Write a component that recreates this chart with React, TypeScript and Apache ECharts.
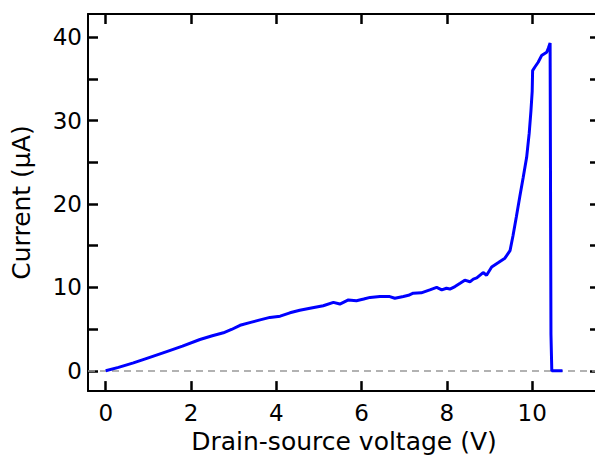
import React, { useEffect, useRef } from "react";
import * as echarts from "echarts";

const voltage = [
  0, 0.3, 0.65, 1.0, 1.43, 1.8, 2.21, 2.5, 2.76, 2.95, 3.15, 3.4, 3.62, 3.85, 4.09,
  4.32, 4.55, 4.79, 5.1, 5.34, 5.49, 5.69, 5.88, 6.05, 6.2, 6.43, 6.66, 6.78, 6.98,
  7.1, 7.21, 7.4, 7.6, 7.76, 7.88, 7.99, 8.07, 8.19, 8.31, 8.42, 8.54, 8.62, 8.7,
  8.85, 8.93, 9.05, 9.2, 9.36, 9.48, 9.55, 9.63, 9.71, 9.79, 9.87, 9.93, 9.97, 10.0,
  10.01, 10.06, 10.14, 10.22, 10.34, 10.38, 10.42, 10.44, 10.46, 10.71,
];
const current = [
  0, 0.4, 0.94, 1.55, 2.3, 2.95, 3.75, 4.2, 4.55, 4.95, 5.45, 5.8, 6.1, 6.4, 6.55,
  6.95, 7.25, 7.5, 7.8, 8.2, 8.0, 8.5, 8.4, 8.6, 8.8, 8.9, 8.9, 8.7, 8.9,
  9.05, 9.3, 9.35, 9.7, 10.0, 9.7, 9.9, 9.8, 10.1, 10.5, 10.87, 10.67, 11.0, 11.14,
  11.78, 11.46, 12.44, 12.95, 13.5, 14.4, 16.2, 18.5, 20.9, 23.2, 25.6, 28.5, 31.1, 33.5,
  36.0, 36.4, 37.0, 37.8, 38.2, 38.7, 39.3, 4.4, 0, 0,
];
const xTicks = [0, 2, 4, 6, 8, 10];
const yMinorTicks = [0, 5, 10, 15, 20, 25, 30, 35, 40];
const yLabels = [0, 10, 20, 30, 40];

const FONT = "DejaVu Sans";

export default function App() {
  const ref = useRef<HTMLDivElement>(null);
  useEffect(() => {
    if (!ref.current) return;
    const chart = echarts.init(ref.current, null, { renderer: "svg" });
    const xMin = -0.415;
    const xMax = 11.59;
    const yMin = -2.44;
    const yMax = 42.79;
    const lineCol = "#000";
    const commonX = {
      type: "value" as const,
      min: xMin,
      max: xMax,
      splitLine: { show: false },
      axisLine: { show: true, onZero: false, lineStyle: { color: lineCol, width: 2 } },
      axisTick: { show: true, inside: true, length: 10, lineStyle: { color: lineCol, width: 2.5 }, customValues: xTicks },
    };
    const commonY = {
      type: "value" as const,
      min: yMin,
      max: yMax,
      splitLine: { show: false },
      axisLine: { show: true, onZero: false, lineStyle: { color: lineCol, width: 2 } },
      axisTick: { show: true, inside: true, length: 10, lineStyle: { color: lineCol, width: 2.5 }, customValues: yMinorTicks },
    };
    chart.setOption({
      animation: false,
      backgroundColor: "#fff",
      grid: { left: 88, width: 512, top: 14, height: 384, containLabel: false },
      xAxis: [
        {
          ...commonX,
          position: "bottom",
          name: "Drain-source voltage (V)",
          nameLocation: "middle",
          nameGap: 37,
          nameTextStyle: { fontFamily: FONT, fontSize: 25, color: "#000" },
          axisLabel: { show: true, customValues: xTicks, margin: 10, fontFamily: FONT, fontSize: 23, color: "#000" },
        },
        { ...commonX, position: "top", axisLabel: { show: false } },
      ],
      yAxis: [
        {
          ...commonY,
          position: "left",
          name: "Current (μA)",
          nameLocation: "middle",
          nameGap: 54,
          nameTextStyle: { fontFamily: FONT, fontSize: 25, color: "#000" },
          axisLabel: { show: true, customValues: yLabels, margin: 6, fontFamily: FONT, fontSize: 23, color: "#000" },
        },
        { ...commonY, position: "right", axisLabel: { show: false } },
      ],
      series: [
        {
          type: "line",
          data: voltage.map((v, i) => [v, current[i]]),
          showSymbol: false,
          symbol: "none",
          lineStyle: { color: "#0000ff", width: 3 },
          z: 3,
          markLine: {
            silent: true,
            symbol: "none",
            label: { show: false },
            lineStyle: { color: "#999", width: 1.5, type: [7, 5] },
            data: [{ yAxis: 0 }],
            z: 1,
          },
        },
      ],
    });
    return () => chart.dispose();
  }, []);
  return (
    <div
      ref={ref}
      style={{ position: "fixed", left: 0, top: 0, width: 600, height: 459 }}
    />
  );
}
